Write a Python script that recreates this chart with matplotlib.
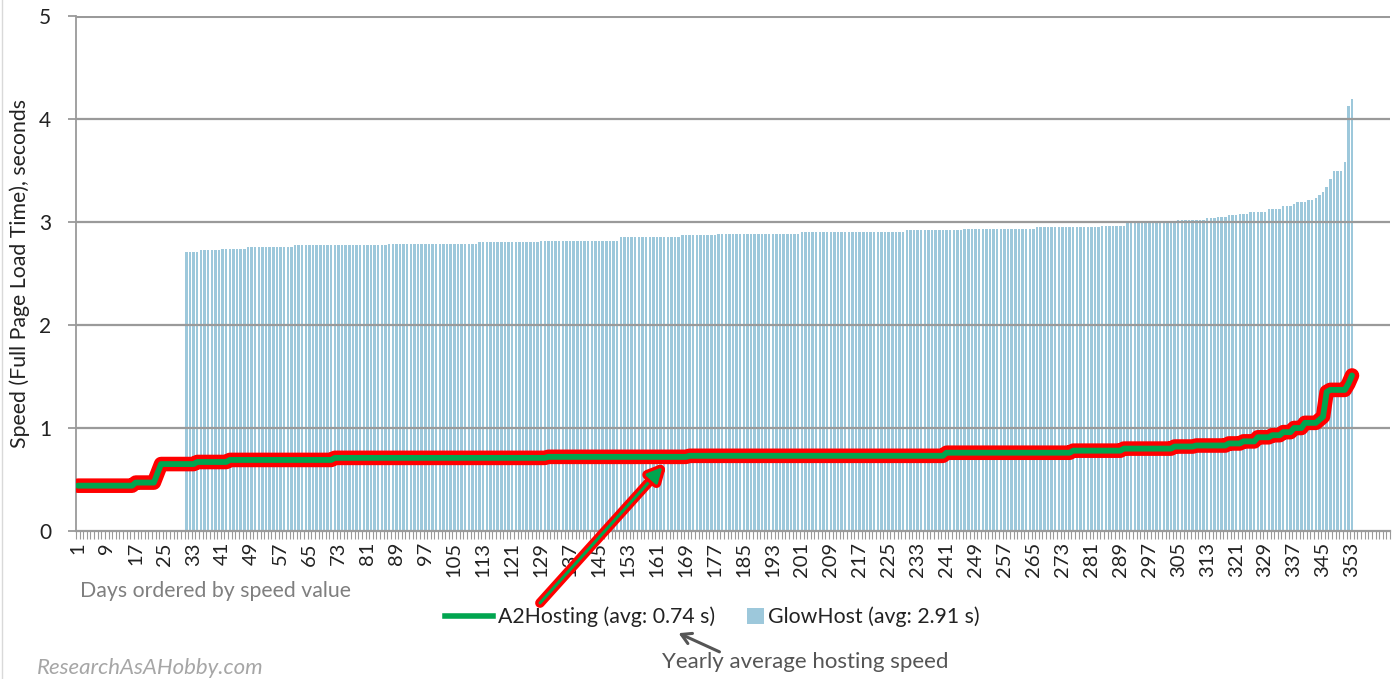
import numpy as np
import matplotlib
matplotlib.use("Agg")
import matplotlib.pyplot as plt
from matplotlib.lines import Line2D
from matplotlib.patches import Patch, Rectangle, FancyArrowPatch
from matplotlib.legend_handler import HandlerPatch
import matplotlib.patheffects as pe

plt.rcParams['font.family'] = ['Lato', 'DejaVu Sans']

# ---- data (run-length) ----
a2_values = [0.44, 0.47, 0.56, 0.65, 0.67, 0.69, 0.71, 0.72, 0.73, 0.76, 0.78,
             0.80, 0.82, 0.83, 0.85, 0.87, 0.91, 0.93, 0.96, 1.00, 1.05, 1.08,
             1.11, 1.35, 1.37, 1.43, 1.51]
a2_counts = [16, 6, 1, 10, 9, 29, 59, 39, 71, 35, 14,
             14, 6, 9, 4, 4, 4, 3, 3, 3, 4, 1,
             1, 1, 5, 1, 1]

glow_first_day = 31
glow_values = [2.71, 2.73, 2.74, 2.76, 2.78, 2.79, 2.81, 2.82, 2.85, 2.87, 2.88,
               2.90, 2.92, 2.93, 2.95, 2.96, 2.99, 3.00, 3.02, 3.04, 3.05, 3.07,
               3.08, 3.10, 3.13, 3.16, 3.17, 3.19, 3.21, 3.23, 3.26, 3.29, 3.34,
               3.42, 3.50, 3.58, 4.13, 4.19]
glow_counts = [4, 6, 7, 13, 26, 25, 17, 22, 17, 10, 23,
               29, 16, 20, 18, 7, 11, 3, 8, 3, 3, 3,
               3, 5, 4, 3, 1, 3, 2, 1, 1, 1, 1,
               1, 3, 1, 1, 1]

n_categories = 363
tick_labels = [str(d) for d in range(1, 354, 8)]

a2_label = "A2Hosting (avg: 0.74 s)"
glow_label = "GlowHost (avg: 2.91 s)"

a2 = np.repeat(a2_values, a2_counts)
a2_days = np.arange(1, len(a2) + 1)
glow = np.repeat(glow_values, glow_counts)
glow_days = np.arange(glow_first_day, glow_first_day + len(glow))

# ---- figure ----
W, H = 1400, 679
fig = plt.figure(figsize=(W / 100, H / 100), dpi=100)
ax = fig.add_axes([76 / W, 1 - 531 / H, (1390 - 76) / W, (531 - 16) / H])

bar_color = '#9DC8DB'
line_green = '#00A54F'
grid_color = '#9A9A9A'
txt = '#222222'

ax.bar(glow_days, glow, width=0.68, color=bar_color, edgecolor='none', zorder=1)
for yv in [1, 2, 3, 4, 5]:
    ax.axhline(yv, color=grid_color, lw=1.6 if yv < 5 else 2.2, zorder=1.5)

ax.plot(a2_days, a2, color=line_green, lw=4.2, zorder=3, solid_capstyle='round',
        path_effects=[pe.Stroke(linewidth=10.5, foreground='#FF0000'), pe.Normal()])

ax.set_xlim(0.5, n_categories + 0.5)
ax.set_ylim(0, 5)

for s in ['top', 'right']:
    ax.spines[s].set_visible(False)
ax.spines['left'].set_color(grid_color)
ax.spines['bottom'].set_color(grid_color)
ax.spines['left'].set_linewidth(1.3)
ax.spines['bottom'].set_linewidth(1.6)

ax.set_yticks([0, 1, 2, 3, 4, 5])
ax.set_yticklabels(['0', '1', '2', '3', '4', '5'])
ax.tick_params(axis='y', length=6, color=grid_color, width=1.3, labelsize=15,
               labelcolor=txt, pad=12)

ax.set_xticks(range(1, 354, 8))
ax.set_xticklabels(tick_labels, rotation=90, fontsize=14.5, color=txt)
ax.set_xticks(np.arange(0.5, n_categories + 1, 1.0), minor=True)
ax.tick_params(axis='x', which='major', length=0, pad=8)
ax.tick_params(axis='x', which='minor', length=6, color=grid_color, width=0.8)

fig.text(20 / W, 1 - 273 / H, "Speed (Full Page Load Time), seconds", rotation=90,
         ha='center', va='center', fontsize=15.3, color=txt)
fig.text(80 / W, 1 - 591 / H, "Days ordered by speed value", ha='left', va='center',
         fontsize=15.3, color='#7F7F7F')


def square_right(legend, orig_handle, xdescent, ydescent, width, height, fontsize):
    s = 12.0
    return Rectangle((-xdescent + width - s, -ydescent + (height - s) / 2), s, s)


handles = [Line2D([0], [0], color=line_green, lw=4),
           Patch(facecolor=bar_color, edgecolor='none')]
leg = fig.legend(handles, [a2_label, glow_label], loc='center',
                 bbox_to_anchor=(712 / W, 1 - 617 / H), ncol=2, frameon=False,
                 fontsize=15.3, handlelength=2.3, handletextpad=0.2,
                 columnspacing=0.0, handleheight=0.7,
                 handler_map={Patch: HandlerPatch(patch_func=square_right)})
for t in leg.get_texts():
    t.set_color(txt)

# red highlighted arrow pointing at the line
ax.annotate("", xy=(162.5, 0.62), xycoords='data',
            xytext=(540 / W, 1 - 603 / H), textcoords='figure fraction',
            arrowprops=dict(arrowstyle='-|>,head_length=0.9,head_width=0.45',
                            color=line_green, lw=2.2, shrinkA=0, shrinkB=0,
                            path_effects=[pe.Stroke(linewidth=7, foreground='#FF0000'),
                                          pe.Normal()]),
            annotation_clip=False, zorder=5)

# grey arrow to the legend average
fig.text(662 / W, 1 - 662 / H, "Yearly average hosting speed", ha='left', va='center',
         fontsize=16, color='#555555')
fig.add_artist(FancyArrowPatch(
    (722 / W, 1 - 653 / H), (676 / W, 1 - 632 / H), transform=fig.transFigure,
    arrowstyle='->,head_length=7,head_width=4', color='#555555', lw=2.2))

fig.text(37 / W, 1 - 668 / H, "ResearchAsAHobby.com", ha='left', va='center',
         fontsize=16, color='#A6A6A6', style='italic')

fig.add_artist(Line2D([1.5 / W, 1.5 / W], [0, 1], color='#D9D9D9', lw=1,
                      transform=fig.transFigure))

fig.savefig("out.png", dpi=100)
